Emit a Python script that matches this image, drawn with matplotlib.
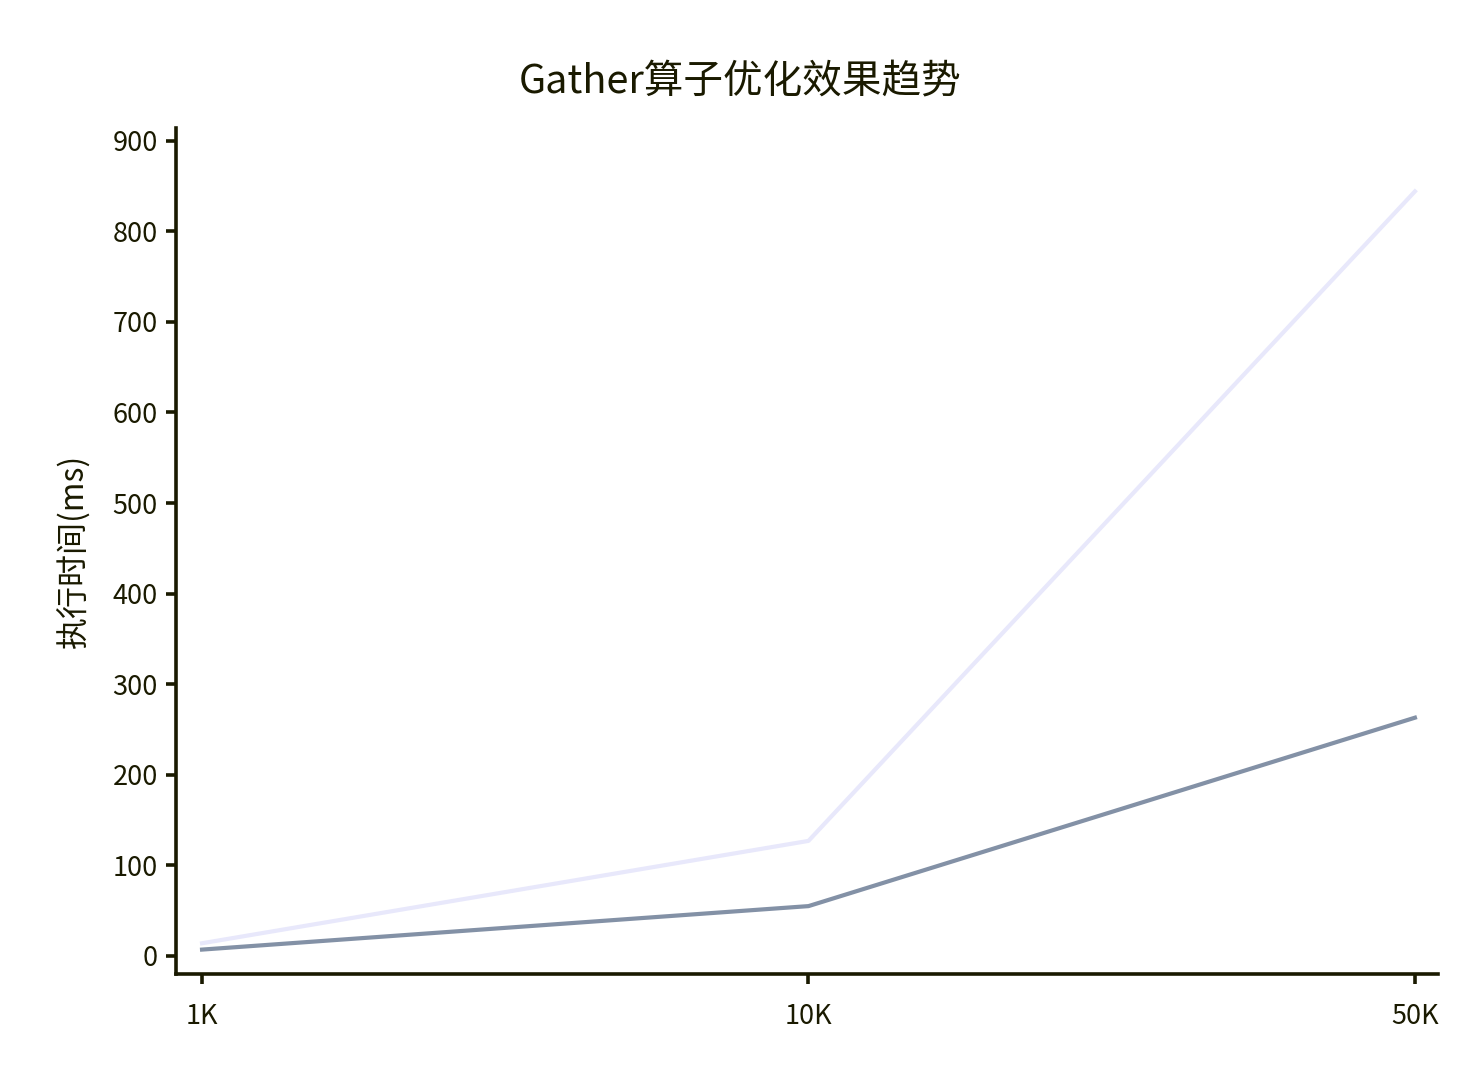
import matplotlib.pyplot as plt

plt.rcParams['font.family'] = ['Noto Sans CJK SC', 'DejaVu Sans']

# data
sizes = ['1K', '10K', '50K']
before_ms = [14, 127, 844]
after_ms = [7, 55, 263]

text_color = '#1a1a00'

fig = plt.figure(figsize=(14.8, 10.8), dpi=100)
ax = fig.add_axes([0.1189, 0.0981, 0.8527, 0.7834])

x = list(range(len(sizes)))
ax.plot(x, before_ms, color='#e8e8fb', linewidth=3.0)
ax.plot(x, after_ms, color='#8391a6', linewidth=3.0)

ax.set_xlim(-0.043, 2.038)
ax.set_ylim(-20, 914)
ax.set_xticks(x)
ax.set_xticklabels(sizes)
ax.set_yticks(range(0, 901, 100))

for side in ['top', 'right']:
    ax.spines[side].set_visible(False)
for side in ['left', 'bottom']:
    ax.spines[side].set_linewidth(2.6)
    ax.spines[side].set_color(text_color)

ax.tick_params(axis='both', length=7, width=2.6, color=text_color,
               labelsize=19.5, labelcolor=text_color)
ax.tick_params(axis='y', pad=6)
ax.tick_params(axis='x', pad=14)

ax.set_ylabel('执行时间(ms)', fontsize=23, color=text_color, labelpad=16)
fig.suptitle('Gather算子优化效果趋势', fontsize=28.5, color=text_color, y=0.943)

fig.savefig('out.png', dpi=100)
